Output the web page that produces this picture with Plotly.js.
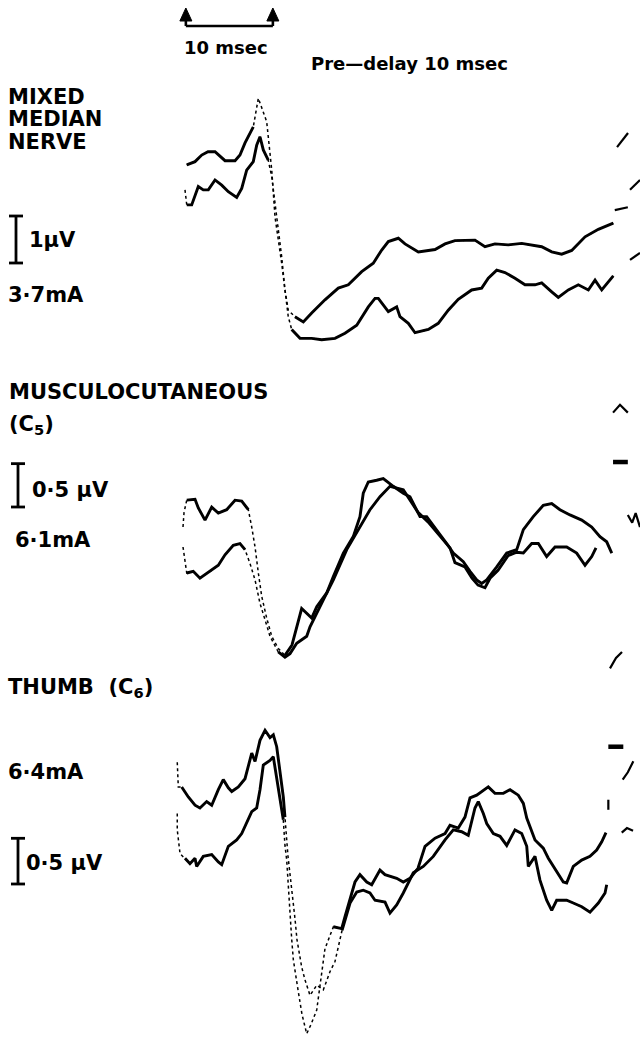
<!DOCTYPE html>
<html><head><meta charset="utf-8">
<script src="https://cdn.plot.ly/plotly-3.0.1.min.js"></script>
<style>html,body{margin:0;padding:0;background:#fff}#chart{width:640px;height:1038px}</style>
</head><body><div id="chart"></div>
<script>
// ---------- DATA (time in msec from sweep start, amplitude in microvolts) ----------
// Panel 1: Mixed median nerve, 3.7 mA
const p1_t_a = [0.2,1.15,1.92,2.64,3.45,4.6,5.75,6.32,6.9,7.85,8.43,9.39,9.97,10.34,11.11,11.49,11.87,12.64,13.6,14.56,16.09,17.62,18.77,20.31,21.64,22.61,23.37,24.52,25.29,26.82,28.74,29.89,31.03,33.33,34.48,35.63,37.16,38.70,41.0,42.15,43.3,44.45,45.98,47.51,49.23];
const p1_v_a = [1.81,1.88,2.02,2.09,2.09,1.90,1.90,2.02,2.28,2.62,3.23,2.73,1.70,0.71,-0.28,-0.85,-1.28,-1.42,-1.53,-1.34,-1.06,-0.81,-0.74,-0.46,-0.28,0.00,0.18,0.25,0.13,-0.04,0.01,0.13,0.20,0.21,0.07,0.13,0.11,0.14,0.07,-0.04,-0.09,-0.01,0.28,0.44,0.57];
const p1_t_b = [0,0.2,0.77,1.53,2.1,2.68,3.45,4.22,4.98,5.94,6.52,7.09,7.85,8.24,8.62,9.0,9.57,9.97,10.54,11.11,11.49,11.87,12.26,13.22,14.56,15.71,17.24,18.39,19.74,21.07,21.84,22.22,23.37,24.33,24.71,25.67,26.44,27.97,29.11,30.26,31.41,32.95,34.1,34.86,35.83,36.78,37.93,39.08,40.23,41.0,42.15,42.91,44.06,45.21,46.36,47.13,47.9,49.23];
const p1_v_b = [1.28,0.96,0.96,1.35,1.28,1.28,1.49,1.38,1.24,1.12,1.31,1.70,1.88,2.23,2.41,2.13,1.91,1.56,0.71,-0.14,-0.85,-1.42,-1.69,-1.88,-1.88,-1.91,-1.88,-1.77,-1.60,-1.21,-1.03,-1.03,-1.31,-1.21,-1.42,-1.56,-1.76,-1.69,-1.56,-1.28,-1.05,-0.85,-0.81,-0.60,-0.43,-0.48,-0.60,-0.74,-0.74,-0.70,-0.89,-1.01,-0.85,-0.74,-0.85,-0.64,-0.85,-0.55];
const p1_t_frag = [49.66,50.92,null,49.4,50.9,null,51.15,52.3,null,51.15,52.3];
const p1_v_frag = [2.19,2.49,null,0.85,0.91,null,1.28,1.49,null,-0.21,-0.06];

// Panel 2: Musculocutaneous (C5), 6.1 mA
const p2_t_a = [-0.23,-0.11,0.2,1.15,1.53,2.3,3.07,3.83,4.79,5.75,6.52,7.28,7.67,8.05,8.43,8.82,9.39,9.97,10.72,11.49,12.3,13.41,14.56,15.14,16.29,17.05,18.2,19.34,20.11,20.49,21.07,22.03,22.79,23.94,25.09,25.86,27.01,27.78,28.93,30.08,30.84,31.99,32.76,33.53,34.1,34.68,35.83,36.98,38.13,38.89,40.03,41.18,42.15,43.1,44.25,45.6,46.75,47.7,48.47,49.05];
const p2_v_a = [0.38,0.55,0.69,0.70,0.60,0.46,0.61,0.54,0.58,0.69,0.68,0.58,0.38,0.15,-0.15,-0.42,-0.67,-0.88,-1.02,-1.10,-0.98,-0.56,-0.67,-0.54,-0.38,-0.19,0.08,0.27,0.50,0.77,0.90,0.92,0.94,0.85,0.77,0.73,0.50,0.50,0.35,0.19,0.08,-0.02,-0.13,-0.23,-0.27,-0.23,-0.08,0.08,0.12,0.35,0.50,0.63,0.65,0.58,0.52,0.46,0.38,0.27,0.21,0.08];
const p2_t_b = [-0.23,0.2,0.95,1.72,2.3,3.07,3.83,4.6,5.55,6.32,6.9,7.47,8.05,8.62,9.2,9.77,10.72,11.49,12.07,12.84,13.99,14.37,15.9,17.05,18.59,20.11,21.26,22.41,23.56,25.09,25.86,26.78,27.93,29.31,30.46,31.03,32.18,32.99,33.68,34.48,35.06,35.98,37.13,38.13,38.89,39.85,40.61,41.57,42.53,43.87,45.02,45.98,46.75,47.24];
const p2_v_b = [0.15,-0.15,-0.13,-0.21,-0.17,-0.12,-0.06,0.06,0.17,0.19,0.12,-0.04,-0.23,-0.50,-0.69,-0.88,-1.06,-1.12,-1.08,-0.96,-0.88,-0.77,-0.46,-0.23,0.12,0.38,0.58,0.73,0.85,0.81,0.69,0.55,0.44,0.28,0.14,-0.03,-0.08,-0.21,-0.29,-0.32,-0.21,-0.12,0.05,0.09,0.08,0.19,0.19,0.04,0.15,0.15,0.08,-0.06,0.04,0.14];
const p2_t_frag = [49.2,50.0,50.9,null,50.9,51.4,51.8,52.3,null,48.85,49.54,50.23];
const p2_v_frag = [1.70,1.79,1.70,null,0.52,0.43,0.54,0.38,null,-1.25,-1.13,-1.06];
const p2_t_dash = [49.2,50.9];
const p2_v_dash = [1.13,1.13];

// Panel 3: Thumb (C6), 6.4 mA
const p3_t_a = [-0.89,-0.77,-0.38,0.38,1.15,1.72,2.49,3.07,3.83,4.4,4.98,5.37,6.13,6.9,7.67,8.05,8.62,9.2,9.77,10.15,10.54,10.92,11.3,11.49,11.69,11.84,12.64,12.87,13.41,13.79,14.37,15.14,15.9,16.67,17.24,18.05,18.97,19.74,20.49,21.26,21.84,22.99,23.56,24.33,25.09,26.24,27.39,28.54,29.89,30.84,31.8,32.56,33.33,33.71,34.29,34.68,35.44,36.21,36.98,37.93,38.7,39.28,39.46,40.23,40.8,41.57,42.15,42.72,43.87,44.63,45.6,46.55,47.51,48.28,48.47];
const p3_v_a = [0.96,0.69,0.69,0.58,0.49,0.46,0.53,0.49,0.66,0.77,0.68,0.64,0.69,0.78,1.06,0.97,1.20,1.31,1.23,1.26,1.13,0.86,0.58,0.36,0.11,-0.07,-0.75,-0.98,-1.28,-1.42,-1.59,-1.48,-1.53,-1.33,-1.22,-0.88,-0.58,-0.46,-0.44,-0.47,-0.55,-0.57,-0.69,-0.60,-0.47,-0.25,-0.18,-0.07,0.11,0.22,0.20,0.16,0.46,0.53,0.40,0.29,0.18,0.15,0.05,0.22,0.18,0.04,-0.18,-0.07,-0.33,-0.55,-0.66,-0.55,-0.55,-0.58,-0.62,-0.68,-0.58,-0.47,-0.38];
const p3_t_b = [-0.89,-0.89,-0.57,0,0.57,1.15,1.34,2.1,3.07,3.83,4.22,4.98,5.94,6.52,7.09,7.67,8.24,8.62,9.0,9.39,9.77,10.15,10.54,10.92,11.3,11.49,11.69,12.26,12.45,12.99,13.45,13.99,14.48,15.14,15.52,16.09,17.05,18.01,18.39,18.97,19.54,20.11,20.89,21.46,22.41,22.99,24.33,25.09,25.86,26.78,27.59,28.74,29.89,30.46,31.41,32.18,32.76,33.53,34.1,34.86,35.63,36.59,37.36,38.31,38.89,39.28,40.23,41.18,41.76,42.53,43.48,43.87,44.63,45.6,46.55,47.32,47.9,48.39];
const p3_v_b = [0.40,0.22,-0.04,-0.09,-0.15,-0.09,-0.18,-0.07,-0.05,-0.13,-0.16,0.04,0.11,0.18,0.29,0.42,0.46,0.66,0.93,0.96,0.98,1.02,0.80,0.55,0.33,0.05,-0.11,-0.97,-1.20,-1.53,-1.80,-2.01,-1.91,-1.75,-1.48,-1.08,-0.84,-0.86,-0.73,-0.55,-0.35,-0.27,-0.35,-0.38,-0.22,-0.27,-0.31,-0.35,-0.31,-0.20,0.04,0.13,0.18,0.27,0.24,0.36,0.57,0.60,0.64,0.69,0.62,0.62,0.66,0.60,0.51,0.35,0.11,0.02,-0.09,-0.20,-0.35,-0.36,-0.18,-0.11,-0.07,0.00,0.09,0.19];
const p3_t_frag = [48.66,48.66,null,50.31,50.9,51.53,null,50.2,50.8,51.5];
const p3_v_frag = [0.55,0.44,null,0.77,0.85,0.97,null,0.19,0.24,0.21];
const p3_t_dash = [48.66,50.38];
const p3_v_dash = [1.13,1.13];

// fast (faint, dotted) sweep portions, msec windows
const p1_fast_a = [[7.9,12.0]], p1_fast_b = [[-0.1,0.15],[9.6,12.0]];
const p2_fast_a = [[-0.3,0.1],[7.4,11.0]], p2_fast_b = [[-0.3,0.1],[7.3,10.5]];
const p3_fast_a = [[-1,-0.5],[11.6,17.5]], p3_fast_b = [[-1,-0.3],[11.4,16.5]];

// labels
const panelTitles = [["MIXED","MEDIAN","NERVE"],["MUSCULOCUTANEOUS","(C<sub>5</sub>)"],["THUMB  (C<sub>6</sub>)"]];
const stimLabels = ["3·7mA","6·1mA","6·4mA"];
const calLabels = ["1µV","0·5 µV","0·5 µV"];
const calValues = [1, 0.5, 0.5];
const timeBarMs = 10;

// ---------- LAYOUT GEOMETRY ----------
const W = 640, H = 1038, T0PX = 185, PXMS = 8.7;
const panels = [{zero:250,k:47},{zero:560,k:86.7},{zero:850,k:91.4}];
const yr = p => [(p.zero - H)/p.k, p.zero/p.k];
const px2x = px => px / W;
const py2y = py => 1 - py / H;
const toUV = (i, py) => (panels[i].zero - py) / panels[i].k;

function solidPart(t, v, wins){
  return v.map((y,i) => wins.some(w => t[i] > w[0] && t[i] < w[1]) ? null : y);
}

const axes = ['y','y2','y3'];
const sets = [
  [p1_t_a,p1_v_a,p1_fast_a,p1_t_b,p1_v_b,p1_fast_b,p1_t_frag,p1_v_frag,null,null],
  [p2_t_a,p2_v_a,p2_fast_a,p2_t_b,p2_v_b,p2_fast_b,p2_t_frag,p2_v_frag,p2_t_dash,p2_v_dash],
  [p3_t_a,p3_v_a,p3_fast_a,p3_t_b,p3_v_b,p3_fast_b,p3_t_frag,p3_v_frag,p3_t_dash,p3_v_dash]
];
const data = [];
sets.forEach((s,i) => {
  const ax = axes[i];
  [[s[0],s[1],s[2]],[s[3],s[4],s[5]]].forEach(([t,v,w]) => {
    data.push({x:t, y:v, yaxis:ax, mode:'lines', hoverinfo:'skip',
      line:{color:'#000', width:1.5, dash:'dot'}});
    data.push({x:t, y:solidPart(t,v,w), yaxis:ax, mode:'lines', hoverinfo:'skip', connectgaps:false,
      line:{color:'#000', width:2.9}});
  });
  data.push({x:s[6], y:s[7], yaxis:ax, mode:'lines', hoverinfo:'skip', connectgaps:false,
    line:{color:'#000', width:2.2}});
  if (s[8]) data.push({x:s[8], y:s[9], yaxis:ax, mode:'lines', hoverinfo:'skip',
    line:{color:'#000', width:4.5}});
});

const F = {family:'DejaVu Sans, Liberation Sans, sans-serif', size:21, color:'#000', weight:700};
const ann = (text, xpx, ypx, opts={}) => Object.assign({text, x:px2x(xpx), y:py2y(ypx), xref:'paper', yref:'paper',
  xanchor:'left', yanchor:'middle', showarrow:false, font:F}, opts);

const annotations = [
  ann("10 msec", 226, 48, {xanchor:'center', font:Object.assign({},F,{size:18})}),
  ann("Pre—delay 10 msec", 309, 63, {font:Object.assign({},F,{size:18})}),
  ann(panelTitles[0][0], 6, 97), ann(panelTitles[0][1], 6, 119), ann(panelTitles[0][2], 6, 142),
  ann(calLabels[0], 27, 240), ann(stimLabels[0], 6, 295),
  ann(panelTitles[1][0], 7, 392), ann(panelTitles[1][1], 7, 425),
  ann(calLabels[1], 30, 490), ann(stimLabels[1], 13, 540),
  ann(panelTitles[2][0], 6, 688),
  ann(stimLabels[2], 6, 772), ann(calLabels[2], 24, 863)
];

// calibration bars (in each panel's microvolt axis)
const calBottomPx = [263, 507, 884];
const calXpx = [16, 18, 18];
const shapes = [];
calBottomPx.forEach((b,i) => {
  const y0 = toUV(i,b), y1 = y0 + calValues[i];
  const ax = axes[i];
  const line = {color:'#000', width:2.8};
  shapes.push({type:'line', xref:'paper', yref:ax, x0:px2x(calXpx[i]), x1:px2x(calXpx[i]), y0, y1, line});
  shapes.push({type:'line', xref:'paper', yref:ax, x0:px2x(calXpx[i]-7), x1:px2x(calXpx[i]+7), y0, y1:y0, line});
  shapes.push({type:'line', xref:'paper', yref:ax, x0:px2x(calXpx[i]-7), x1:px2x(calXpx[i]+7), y0:y1, y1, line});
});
// time calibration bar with arrows (10 msec)
const tb0 = 0.1, tb1 = tb0 + timeBarMs, hw = 6/PXMS;
const lineT = {color:'#000', width:2.6};
shapes.push({type:'line', xref:'x', yref:'paper', x0:tb0, x1:tb1, y0:py2y(26), y1:py2y(26), line:lineT});
[tb0, tb1].forEach(xm => {
  shapes.push({type:'line', xref:'x', yref:'paper', x0:xm, x1:xm, y0:py2y(26), y1:py2y(18), line:lineT});
  shapes.push({type:'path', xref:'x', yref:'paper',
    path:`M ${xm-hw},${py2y(21)} L ${xm+hw},${py2y(21)} L ${xm},${py2y(8)} Z`,
    fillcolor:'#000', line:{color:'#000', width:1}});
});

const layout = {
  width:W, height:H, margin:{l:0,r:0,t:0,b:0,pad:0},
  paper_bgcolor:'#fff', plot_bgcolor:'#fff', showlegend:false,
  xaxis:{range:[-T0PX/PXMS, (W-T0PX)/PXMS], visible:false, fixedrange:true},
  yaxis:{domain:[0,1], range:yr(panels[0]), visible:false, fixedrange:true},
  yaxis2:{overlaying:'y', range:yr(panels[1]), visible:false, fixedrange:true},
  yaxis3:{overlaying:'y', range:yr(panels[2]), visible:false, fixedrange:true},
  annotations, shapes
};
Plotly.newPlot('chart', data, layout, {staticPlot:true, displayModeBar:false});
</script></body></html>
